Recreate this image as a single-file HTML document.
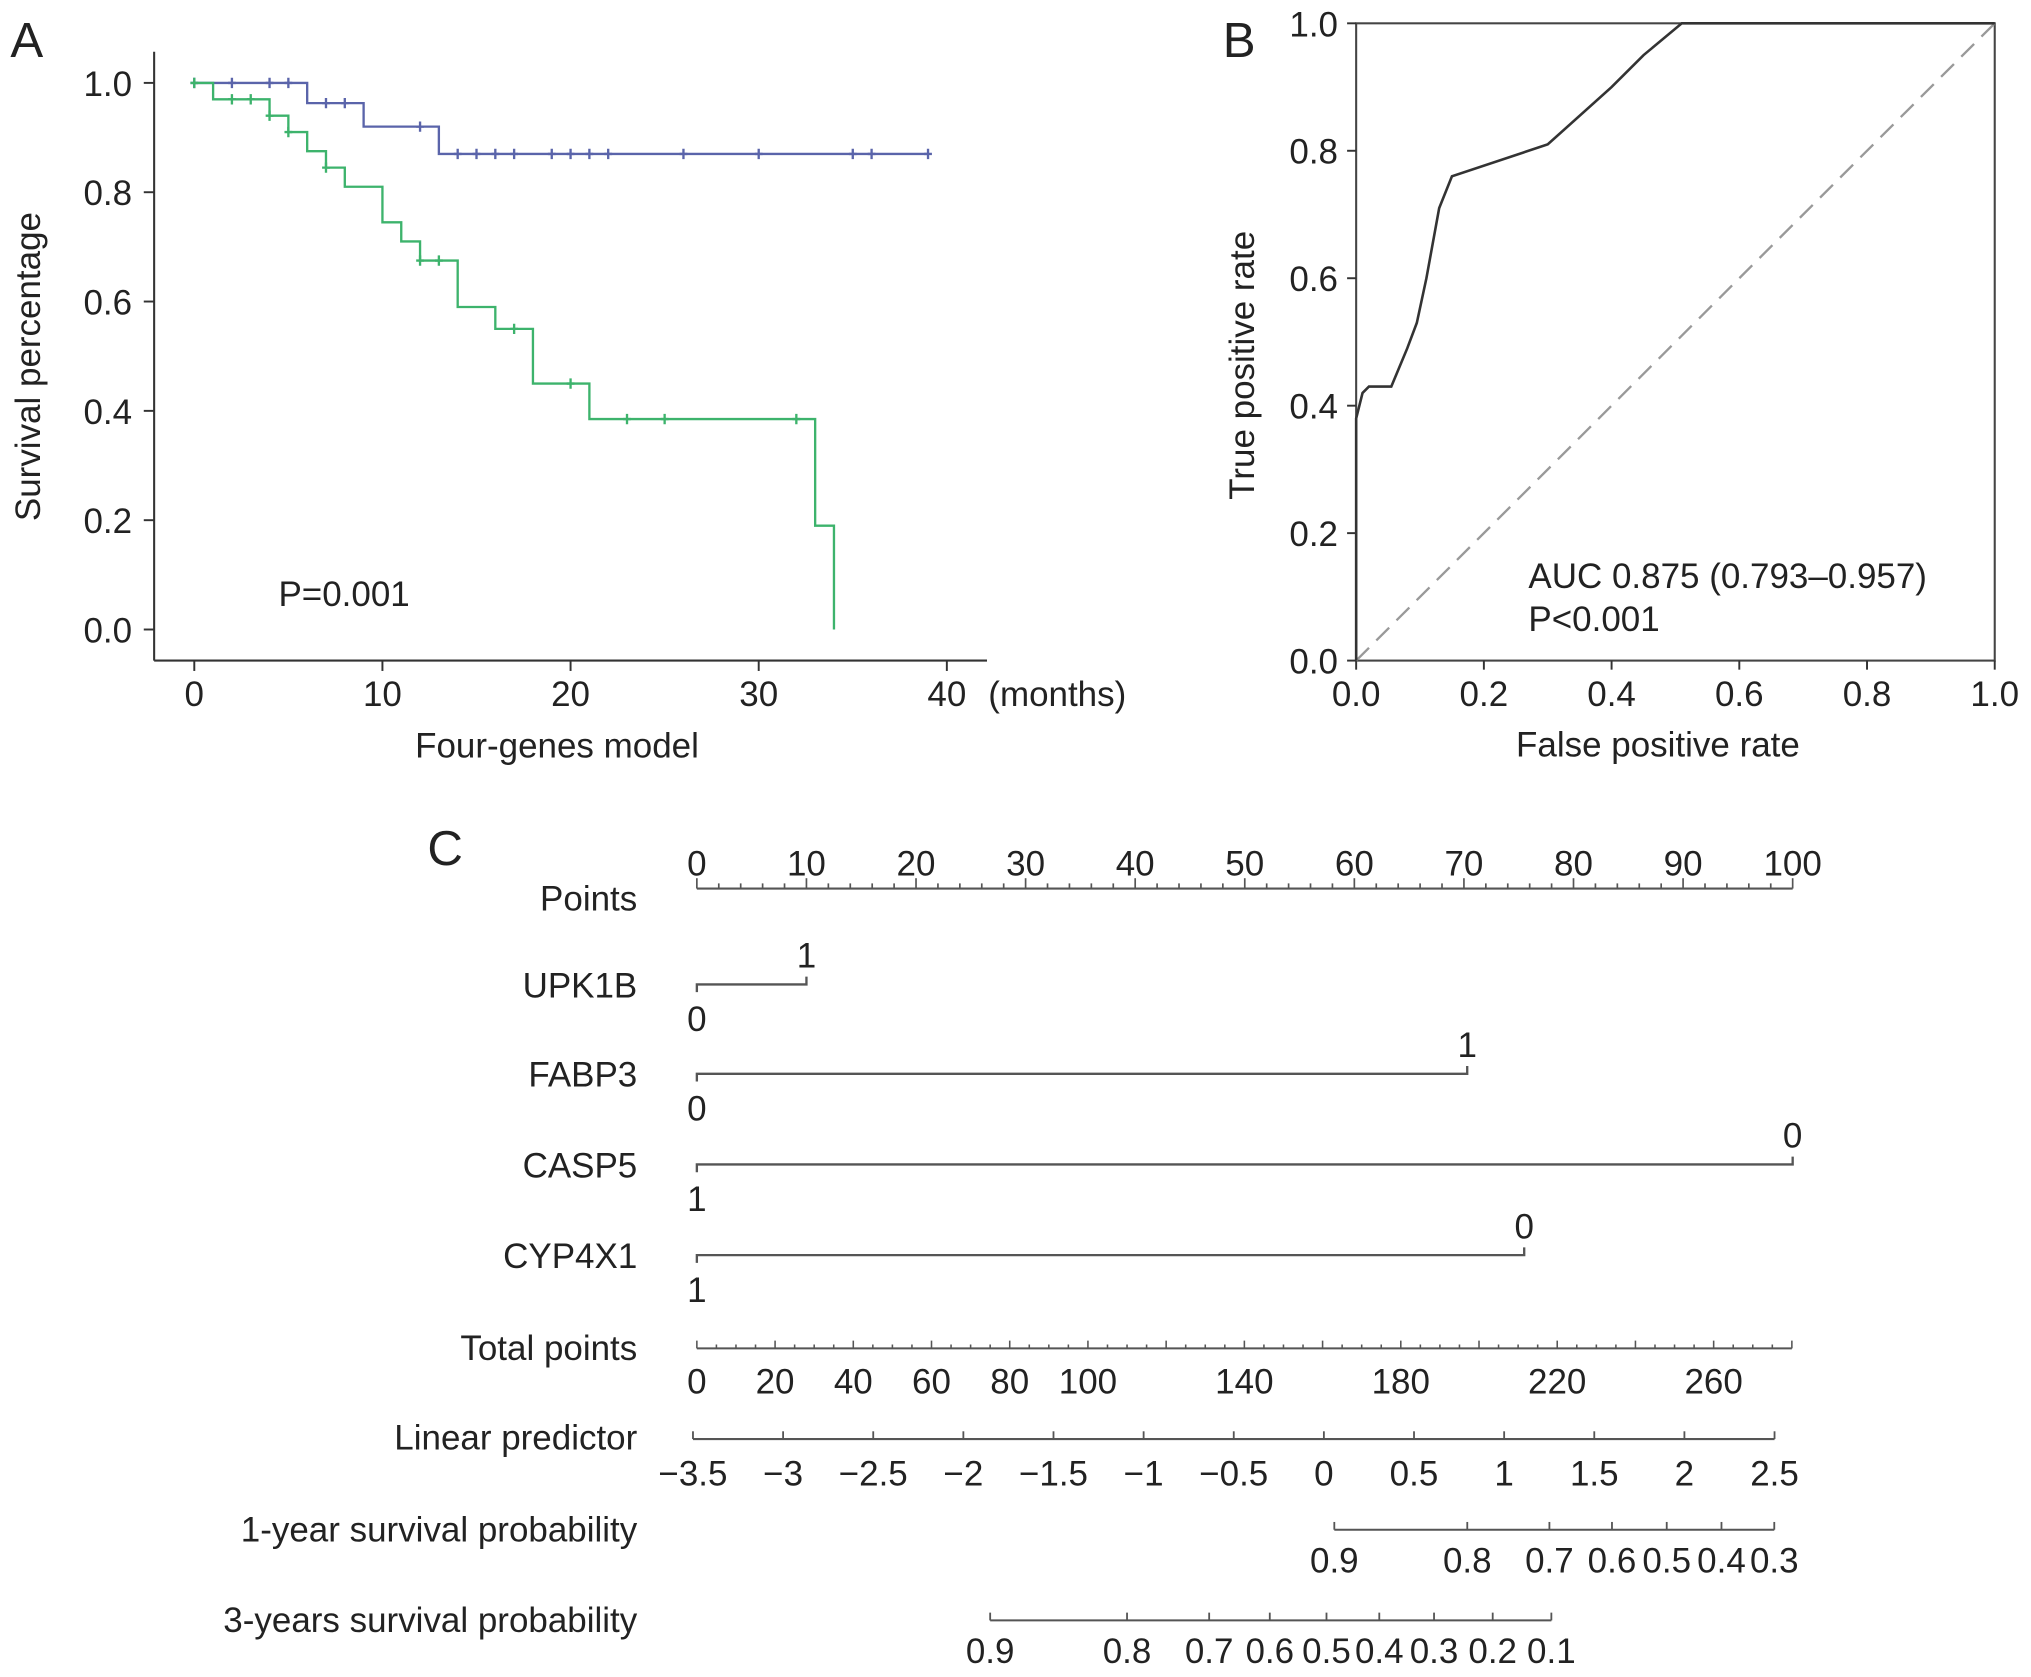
<!DOCTYPE html>
<html><head><meta charset="utf-8"><style>
html,body{margin:0;padding:0;background:#fff;}
svg{display:block;}
text{font-family:"Liberation Sans",sans-serif;fill:#222;}
</style></head><body>
<svg id="fig" xmlns="http://www.w3.org/2000/svg" width="2031" height="1677" viewBox="0 0 1568 1294.7" preserveAspectRatio="none">
<rect width="1568" height="1295" fill="#fff"/>
<g id="pa"></g>
<g id="pb"></g>
<g id="pc"></g>
</svg>
<script>
// Panel A data
const kmTicks = [0,10,20,30,40];
const kmYTicks = [0,0.2,0.4,0.6,0.8,1.0];
const blueTimes = [0,6,9,13,39];
const blueSurv = [1.0,0.963,0.92,0.87,0.87];
const blueCens = [0,2,4,5,7,8,12,14,15,16,17,19,20,21,22,26,30,35,36,39];
const greenTimes = [0,1,4,5,6,7,8,10,11,12,14,16,18,21,33,34];
const greenSurv = [1.0,0.97,0.94,0.91,0.875,0.845,0.81,0.745,0.71,0.675,0.59,0.55,0.45,0.385,0.19,0.0];
const greenCens = [0,2,3,4,5,7,12,13,17,20,23,25,32];
// Panel B data
const rocFpr = [0,0,0.01,0.02,0.055,0.08,0.095,0.11,0.13,0.15,0.3,0.4,0.45,0.51,1.0];
const rocTpr = [0,0.38,0.42,0.43,0.43,0.49,0.53,0.6,0.71,0.76,0.81,0.9,0.95,1.0,1.0];
const rocTicks = [0,0.2,0.4,0.6,0.8,1.0];
// Panel C data
const pointsTicks = [0,10,20,30,40,50,60,70,80,90,100];
const varNames = ['UPK1B','FABP3','CASP5','CYP4X1'];
const varPoints = [10,70.3,100,75.5];
const varTopLabel = ['1','1','0','0'];
const varBotLabel = ['0','0','1','1'];
const totalTicks = [0,20,40,60,80,100,140,180,220,260];
const lpTicks = [-3.5,-3,-2.5,-2,-1.5,-1,-0.5,0,0.5,1,1.5,2,2.5];
const surv1Labels = ['0.9','0.8','0.7','0.6','0.5','0.4','0.3'];
const surv1Pts = [163,197,218,234,248,262,275.5];
const surv3Labels = ['0.9','0.8','0.7','0.6','0.5','0.4','0.3','0.2','0.1'];
const surv3Pts = [75,110,131,146.5,161,174.5,188.5,203.5,218.5];

const NS='http://www.w3.org/2000/svg';
const FS=27;
function el(parent,tag,attrs,txt){const e=document.createElementNS(NS,tag);for(const k in attrs)e.setAttribute(k,attrs[k]);if(txt!==undefined)e.textContent=txt;parent.appendChild(e);return e;}
const fmt=v=>v.toFixed(1);
const minus=v=>String(v).replace('-','\u2212');

// ---- Panel A ----
const A=document.getElementById('pa');
const ax=t=>150+t*(731-150)/40, ay=s=>486-s*(486-64);
let e;
e=el(A,'text',{x:8,y:44,'font-size':38},'A');
e=el(A,'line',{x1:119,y1:40,x2:119,y2:510,stroke:'#333','stroke-width':1.6});
e=el(A,'line',{x1:119,y1:510,x2:762,y2:510,stroke:'#333','stroke-width':1.6});
kmYTicks.forEach(v=>{el(A,'line',{x1:111,y1:ay(v),x2:119,y2:ay(v),stroke:'#333','stroke-width':1.5});
 e=el(A,'text',{x:102,y:ay(v)+10,'font-size':FS,'text-anchor':'end'},fmt(v));});
kmTicks.forEach(v=>{el(A,'line',{x1:ax(v),y1:510,x2:ax(v),y2:518,stroke:'#333','stroke-width':1.5});
 e=el(A,'text',{x:ax(v),y:545,'font-size':FS,'text-anchor':'middle'},String(v));});
e=el(A,'text',{x:763,y:545,'font-size':FS},'(months)');
e=el(A,'text',{x:430,y:585,'font-size':FS,'text-anchor':'middle'},'Four-genes model');
e=el(A,'text',{x:0,y:0,'font-size':FS,'text-anchor':'middle',transform:'translate(31,283) rotate(-90)'},'Survival percentage');
e=el(A,'text',{x:215,y:468,'font-size':FS},'P=0.001');
function stepPath(ts,ss){let d='M'+ax(ts[0])+','+ay(ss[0]);for(let i=1;i<ts.length;i++){d+=' H'+ax(ts[i])+' V'+ay(ss[i]);}return d;}
function survAt(ts,ss,t){let s=ss[0];for(let i=0;i<ts.length;i++){if(ts[i]<=t)s=ss[i];}return s;}
function drawKM(ts,ss,cens,col,name){
 e=el(A,'path',{d:stepPath(ts,ss),fill:'none',stroke:col,'stroke-width':1.8});
 cens.forEach(t=>{const x=ax(t),y=ay(survAt(ts,ss,t));
  e=el(A,'path',{d:`M${x},${y-4}V${y+4}M${x-3},${y}H${x+3}`,stroke:col,'stroke-width':1.8});});
}
drawKM(blueTimes,blueSurv,blueCens,'#5a64aa','low-risk');
drawKM(greenTimes,greenSurv,greenCens,'#3db36c','high-risk');

// ---- Panel B ----
const B=document.getElementById('pb');
const bx=v=>1047+v*(1540-1047), by=v=>510-v*(510-18);
e=el(B,'text',{x:944,y:44,'font-size':38},'B');
e=el(B,'rect',{x:1047,y:18,width:493,height:492,fill:'none',stroke:'#444','stroke-width':1.6});
rocTicks.forEach(v=>{el(B,'line',{x1:1040,y1:by(v),x2:1047,y2:by(v),stroke:'#333','stroke-width':1.5});
 el(B,'line',{x1:bx(v),y1:510,x2:bx(v),y2:517,stroke:'#333','stroke-width':1.5});
 e=el(B,'text',{x:1033,y:by(v)+10,'font-size':FS,'text-anchor':'end'},fmt(v));
 e=el(B,'text',{x:bx(v),y:545,'font-size':FS,'text-anchor':'middle'},fmt(v));});
e=el(B,'line',{x1:bx(0),y1:by(0),x2:bx(1),y2:by(1),stroke:'#999','stroke-width':1.8,'stroke-dasharray':'14,8'});
e=el(B,'polyline',{points:rocFpr.map((f,i)=>bx(f)+','+by(rocTpr[i])).join(' '),fill:'none',stroke:'#333','stroke-width':2});
e=el(B,'text',{x:1180,y:454,'font-size':FS},'AUC 0.875 (0.793\u20130.957)');
e=el(B,'text',{x:1180,y:487,'font-size':FS},'P<0.001');
e=el(B,'text',{x:1280,y:584,'font-size':FS,'text-anchor':'middle'},'False positive rate');
e=el(B,'text',{x:0,y:0,'font-size':FS,'text-anchor':'middle',transform:'translate(968,282) rotate(-90)'},'True positive rate');

// ---- Panel C ----
const C=document.getElementById('pc');
const px=p=>538+p*(1384-538)/100;
const tx=t=>538+t*(1323-538)/260;
const lx=v=>535+(v+3.5)*(1370-535)/6;
const S='#555';
e=el(C,'text',{x:330,y:668,'font-size':38},'C');
const rowLabels=[['Points',703],['Total points',1050],['Linear predictor',1119],['1-year survival probability',1190],['3-years survival probability',1260]];
rowLabels.forEach(r=>{e=el(C,'text',{x:492,y:r[1],'font-size':FS,'text-anchor':'end'},r[0]);});
el(C,'line',{x1:px(0),y1:686,x2:px(100),y2:686,stroke:S,'stroke-width':1.6});
for(let p=0;p<=100;p+=2){el(C,'line',{x1:px(p),y1:686,x2:px(p),y2:p%10===0?678:682,stroke:S,'stroke-width':1.3});}
pointsTicks.forEach(p=>{e=el(C,'text',{x:px(p),y:676,'font-size':FS,'text-anchor':'middle'},String(p));});
const varY=[760,829,899,969];
varNames.forEach((n,i)=>{const y=varY[i],x2=px(varPoints[i]);
 e=el(C,'text',{x:492,y:y+10,'font-size':FS,'text-anchor':'end'},n);
 e=el(C,'path',{d:`M${px(0)},${y+6}V${y}H${x2}V${y-6}`,fill:'none',stroke:S,'stroke-width':1.8});
 el(C,'text',{x:x2,y:y-13,'font-size':FS,'text-anchor':'middle'},varTopLabel[i]);
 el(C,'text',{x:px(0),y:y+36,'font-size':FS,'text-anchor':'middle'},varBotLabel[i]);
});
el(C,'line',{x1:tx(0),y1:1041,x2:tx(280),y2:1041,stroke:S,'stroke-width':1.6});
for(let t=0;t<=280;t+=5){el(C,'line',{x1:tx(t),y1:1041,x2:tx(t),y2:t%20===0?1035:1038,stroke:S,'stroke-width':1.2});}
totalTicks.forEach(t=>{e=el(C,'text',{x:tx(t),y:1076,'font-size':FS,'text-anchor':'middle'},String(t));});
el(C,'line',{x1:lx(-3.5),y1:1111,x2:lx(2.5),y2:1111,stroke:S,'stroke-width':1.6});
lpTicks.forEach(v=>{el(C,'line',{x1:lx(v),y1:1111,x2:lx(v),y2:1105,stroke:S,'stroke-width':1.4});
 e=el(C,'text',{x:lx(v),y:1147,'font-size':FS,'text-anchor':'middle'},minus(v));});
function survScale(pts,labels,y,name){
 el(C,'line',{x1:tx(pts[0]),y1:y,x2:tx(pts[pts.length-1]),y2:y,stroke:S,'stroke-width':1.6});
 pts.forEach((p,i)=>{el(C,'line',{x1:tx(p),y1:y,x2:tx(p),y2:y-6,stroke:S,'stroke-width':1.4});
  e=el(C,'text',{x:tx(p),y:y+33,'font-size':FS,'text-anchor':'middle'},labels[i]);});
}
survScale(surv1Pts,surv1Labels,1181,'one-year-survival-tick-label');
survScale(surv3Pts,surv3Labels,1251,'three-year-survival-tick-label');
</script>
</body></html>
